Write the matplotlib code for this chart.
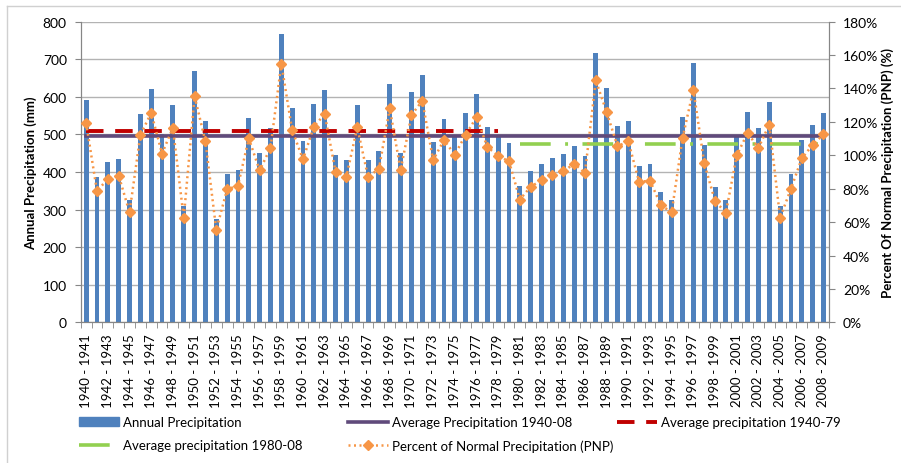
import matplotlib.pyplot as plt
import matplotlib.lines as mlines
import matplotlib.patches as mpatches
import numpy as np

plt.rcParams['font.family'] = ['Lato', 'DejaVu Sans']

# Годы начала сезона (1940-1941 ... 2008-2009)
start_years = list(range(1940, 2009))
season_labels = [f"{y} - {y + 1}" for y in start_years]

# Годовые осадки, мм
annual_precip = [
    591, 388, 426, 435, 326, 555, 621, 500, 577, 309,
    670, 536, 274, 394, 405, 545, 450, 517, 767, 569,
    483, 580, 617, 446, 432, 578, 431, 455, 634, 451,
    614, 657, 481, 540, 497, 556, 608, 520, 493, 477,
    364, 402, 421, 436, 447, 470, 443, 717, 623, 522,
    536, 416, 420, 347, 326, 546, 690, 472, 359, 325,
    495, 561, 517, 586, 310, 396, 486, 526, 557,
]

# Средние значения, мм
avg_1940_08 = 495
avg_1940_79 = 510
avg_1980_08 = 474

# Процент от нормы (PNP) относительно среднего 1940-08
pnp = [v / avg_1940_08 * 100 for v in annual_precip]

n = len(annual_precip)
x = np.arange(n)

fig = plt.figure(figsize=(9.01, 4.64), dpi=100)
ax = fig.add_axes([0.0896, 0.3032, 0.8304, 0.6479])
ax2 = ax.twinx()

grid_color = '#B3B3B3'
axis_color = '#868686'

ax.set_axisbelow(True)
ax.yaxis.grid(True, color=grid_color, linewidth=1)

ax.bar(x, annual_precip, width=0.45, color='#4F81BD', zorder=2,
       label='Annual Precipitation')

ax.plot(x, [avg_1940_08] * n, color='#604A7B', linewidth=2.6, zorder=3,
        label='Average Precipitation 1940-08')

idx_79 = start_years.index(1979)
ax.plot(x[:idx_79], [avg_1940_79] * idx_79, color='#C00000', linewidth=2.8,
        dashes=(4.5, 3), zorder=3, label='Average precipitation 1940-79')

idx_80 = start_years.index(1980)
ax.plot(x[idx_80:], [avg_1980_08] * (n - idx_80), color='#92D050', linewidth=2.6,
        dashes=(8.5, 4, 0.8, 4), zorder=3, label='Average precipitation 1980-08')

ax2.plot(x, pnp, color='#F79646', linewidth=1.8, linestyle=(0, (0.8, 1.4)),
         marker='D', markersize=5, zorder=4,
         label='Percent of Normal Precipitation (PNP)')

ax.set_xlim(-0.5, n - 0.5)
ax.set_ylim(0, 800)
ax.set_yticks(range(0, 801, 100))
ax2.set_ylim(0, 180)
ax2.set_yticks(range(0, 181, 20))
ax2.set_yticklabels([f"{t}%" for t in range(0, 181, 20)])

ax.set_xticks(x[::2])
ax.set_xticklabels(season_labels[::2], rotation=90, fontsize=9.5)
ax.set_xticks(np.arange(-0.5, n, 1), minor=True)
ax.tick_params(axis='x', which='major', length=0, pad=8)
ax.tick_params(axis='x', which='minor', length=4, color=axis_color)
ax.tick_params(axis='y', length=4, color=axis_color, labelsize=10, pad=6)
ax2.tick_params(axis='y', length=4, color=axis_color, labelsize=10, pad=6)

for a in (ax, ax2):
    a.spines['top'].set_visible(False)
    for s in ('left', 'right', 'bottom'):
        a.spines[s].set_color(axis_color)

ax.set_ylabel('Annual Precipitation (mm)', fontsize=9.5, fontweight='bold', labelpad=4)
ax2.set_ylabel('Percent Of Normal Precipitation (PNP) (%)', fontsize=9.5,
               fontweight='bold', labelpad=2)

# Легенда: три колонки, размещённые вручную, как в Excel
h_annual = mpatches.Patch(color='#4F81BD', label='Annual Precipitation')
h_avg = mlines.Line2D([], [], color='#604A7B', linewidth=2.6,
                      label='Average Precipitation 1940-08')
h_79 = mlines.Line2D([], [], color='#C00000', linewidth=2.8, dashes=(4.5, 3),
                     label='Average precipitation 1940-79')
h_80 = mlines.Line2D([], [], color='#92D050', linewidth=2.6, dashes=(8.5, 4, 0.8, 4),
                     label='Average precipitation 1980-08')
h_pnp = mlines.Line2D([], [], color='#F79646', linewidth=1.8, linestyle=(0, (0.8, 1.4)),
                      marker='D', markersize=5, label='Percent of Normal Precipitation (PNP)')

legend_kw = dict(loc='upper left', frameon=False, fontsize=9.5, handlelength=3.0,
                 handleheight=0.6, handletextpad=0.3, labelspacing=0.85,
                 borderaxespad=0, borderpad=0)
legend_top = 1 - 417 / 464
fig.legend(handles=[h_annual, h_80], bbox_to_anchor=(79 / 901, legend_top), **legend_kw)
fig.legend(handles=[h_avg, h_pnp], bbox_to_anchor=(348 / 901, legend_top), **legend_kw)
fig.legend(handles=[h_79], bbox_to_anchor=(617 / 901, legend_top), **legend_kw)

# Рамка области диаграммы (обрезана справа и снизу)
fig.add_artist(mlines.Line2D([7 / 901, 7 / 901], [0, 1 - 7 / 464],
                             transform=fig.transFigure, color='#D0D0D0', linewidth=1))
fig.add_artist(mlines.Line2D([7 / 901, 1], [1 - 7 / 464, 1 - 7 / 464],
                             transform=fig.transFigure, color='#D0D0D0', linewidth=1))

fig.savefig('out.png', dpi=100)
